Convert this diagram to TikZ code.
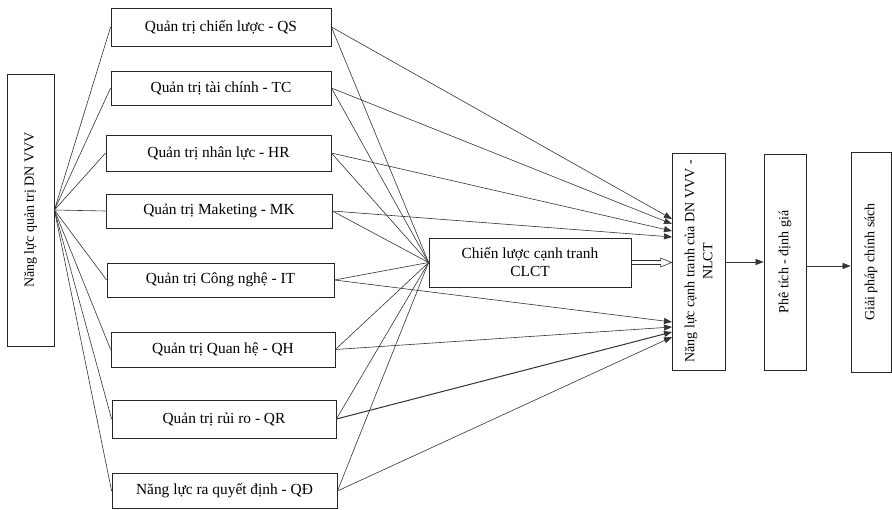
\documentclass[tikz,border=0pt]{standalone}
\usepackage{fontspec}
\setmainfont{Liberation Serif}
\usetikzlibrary{arrows.meta}
\begin{document}
\begin{tikzpicture}[x=1pt,y=-1pt,
  box/.style={draw=black!85,line width=0.8pt,inner sep=0pt,font=\fontsize{15.4}{18}\selectfont},
  vbox/.style={box,rotate=90,align=center,font=\fontsize{14}{18}\selectfont},
  ln/.style={draw=black!80,line width=0.6pt},
  arr/.style={ln,-{Triangle[length=8pt,width=6pt]}}]
\useasboundingbox (0,0) rectangle (892,510);
\node[vbox,minimum width=272,minimum height=47] (left) at (30.5,210) {Năng lực quản trị DN VVV};
\node[box,minimum width=220,minimum height=38] (qs) at (221,27) {Quản trị chiến lược - QS};
\node[box,minimum width=220,minimum height=34] (tc) at (221,88) {Quản trị tài chính - TC};
\node[box,minimum width=225,minimum height=36] (hr) at (218.5,153) {Quản trị nhân lực - HR};
\node[box,minimum width=226,minimum height=34] (mk) at (219,211) {Quản trị Maketing - MK};
\node[box,minimum width=227,minimum height=34] (it) at (220.5,280) {Quản trị Công nghệ - IT};
\node[box,minimum width=224,minimum height=35] (qh) at (223,349.5) {Quản trị Quan hệ - QH};
\node[box,minimum width=224,minimum height=38] (qr) at (224,419) {Quản trị rủi ro - QR};
\node[box,minimum width=225,minimum height=35] (qd) at (224.5,491) {Năng lực ra quyết định - QĐ};
\node[box,minimum width=202,minimum height=49,align=center] (clct) at (530,262.5) {Chiến lược cạnh tranh\\CLCT};
\node[vbox,minimum width=217,minimum height=53] (nlct) at (698.5,261.5) {Năng lực cạnh tranh của DN VVV -\\NLCT};
\node[vbox,minimum width=216,minimum height=42] (phe) at (785,262) {Phê tích - định giá};
\node[vbox,minimum width=220,minimum height=40] (giai) at (871,262) {Giải pháp chính sách};
\coordinate (n1) at (672,219);
\coordinate (n2) at (672,224);
\coordinate (n3) at (672,231);
\coordinate (n4) at (672,237);
\coordinate (n5) at (672,322);
\coordinate (n6) at (672,327);
\coordinate (n7) at (672,332);
\coordinate (n8) at (672,337);
\coordinate (tip) at (nlct.north |- clct.east);
\foreach \b in {qs,tc,hr,mk,it,qh,qr,qd}{
  \draw[ln] (left.south) -- (\b.west);
  \draw[ln] (\b.east) -- (clct.west);
}
\draw[arr] (qs.east) -- (n1);
\draw[arr] (tc.east) -- (n2);
\draw[arr] (hr.east) -- (n3);
\draw[arr] (mk.east) -- (n4);
\draw[arr] (it.east) -- (n5);
\draw[arr] (qh.east) -- (n6);
\draw[arr,line width=1pt] (qr.east) -- (n7);
\draw[arr] (qd.east) -- (n8);
\draw[ln,line join=miter] ([yshift=2pt]clct.east) -- ([xshift=-11pt,yshift=2pt]tip) -- ([xshift=-11pt,yshift=4.5pt]tip) -- (tip)
  -- ([xshift=-11pt,yshift=-4.5pt]tip) -- ([xshift=-11pt,yshift=-2pt]tip) -- ([yshift=-2pt]clct.east);
\draw[arr] (nlct.south |- phe.center) -- (phe.north);
\draw[arr] (phe.south |- 0,266) -- (giai.north |- 0,266);
\end{tikzpicture}
\end{document}
